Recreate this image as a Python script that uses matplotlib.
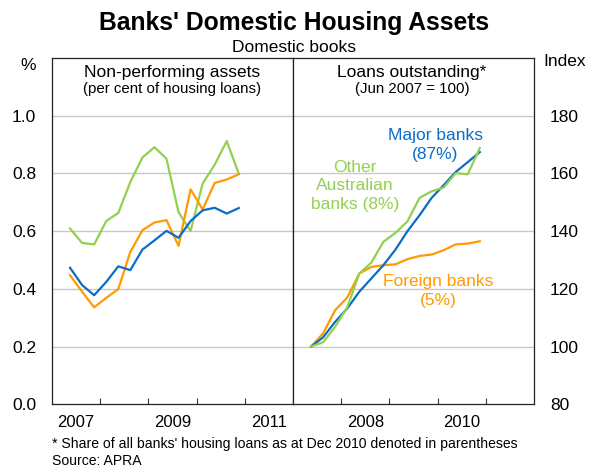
import matplotlib
matplotlib.use("Agg")
import matplotlib.pyplot as plt
import numpy as np

plt.rcParams['font.family'] = ['Liberation Sans', 'DejaVu Sans']

# Quarterly dates Jun 2007 .. Dec 2010
quarters = ["2007-06", "2007-09", "2007-12", "2008-03", "2008-06", "2008-09", "2008-12",
            "2009-03", "2009-06", "2009-09", "2009-12", "2010-03", "2010-06", "2010-09", "2010-12"]

# Non-performing assets (% of housing loans)
npa_major = [0.473, 0.413, 0.378, 0.424, 0.478, 0.465, 0.536, 0.568, 0.601, 0.577, 0.635, 0.672, 0.681, 0.661, 0.680]
npa_foreign = [0.447, 0.390, 0.336, 0.369, 0.399, 0.528, 0.603, 0.630, 0.638, 0.549, 0.745, 0.675, 0.767, 0.779, 0.797]
npa_other = [0.609, 0.559, 0.554, 0.635, 0.663, 0.770, 0.855, 0.891, 0.851, 0.666, 0.600, 0.765, 0.830, 0.912, 0.799]

# Loans outstanding (Jun 2007 = 100)
loans_major = [100.0, 103.2, 108.6, 113.2, 119.0, 123.6, 128.2, 133.6, 140.0, 145.5, 151.5, 155.9, 160.5, 163.9, 167.4]
loans_other = [100.0, 101.5, 106.9, 113.6, 125.3, 129.1, 136.3, 139.4, 143.4, 151.5, 153.8, 155.1, 160.1, 159.7, 168.8]
loans_foreign = [100.0, 104.6, 112.6, 117.0, 125.3, 127.6, 128.2, 128.5, 130.3, 131.4, 131.9, 133.4, 135.4, 135.7, 136.5]

left_yticks = [0.0, 0.2, 0.4, 0.6, 0.8, 1.0]
left_ylabels = ["0.0", "0.2", "0.4", "0.6", "0.8", "1.0"]
right_yticks = [80, 100, 120, 140, 160, 180]
left_xlabels = ["2007", "2009", "2011"]
right_xlabels = ["2008", "2010"]

BLUE = '#0A6EC8'
GREEN = '#92D050'
ORANGE = '#FF9A00'

def qx(q):
    y, m = q.split('-')
    return int(y) + (int(m) - 1.5) / 12.0

x = np.array([qx(q) for q in quarters])

W, H = 597, 469
fig = plt.figure(figsize=(W / 100, H / 100), dpi=100)

L, R, M = 52, 534, 293
B, T = 404.3, 58
axl = fig.add_axes([L / W, 1 - B / H, (M - L) / W, (B - T) / H])
axr = fig.add_axes([M / W, 1 - B / H, (R - M) / W, (B - T) / H])

lw = 1.6
axl.plot(x, npa_other, color=GREEN, lw=lw, zorder=3)
axl.plot(x, npa_foreign, color=ORANGE, lw=lw, zorder=3)
axl.plot(x, npa_major, color=BLUE, lw=lw, zorder=3)
axl.set_ylim(0, 1.2)

axr.plot(x, loans_foreign, color=ORANGE, lw=lw, zorder=3)
axr.plot(x, loans_major, color=BLUE, lw=lw, zorder=3)
axr.plot(x, loans_other, color=GREEN, lw=lw, zorder=3)
axr.set_ylim(80, 200)

for ax in (axl, axr):
    ax.set_xlim(2007, 2012)
    ax.set_xticks([2008, 2009, 2010, 2011])
    ax.tick_params(axis='x', which='major', direction='in', length=4, width=0.8,
                   labelbottom=False, color='#333333')
    for s in ax.spines.values():
        s.set_color('#222222')
        s.set_linewidth(0.9)

# gridlines
for v in [0.2, 0.4, 0.6, 0.8, 1.0]:
    axl.axhline(v, color='#c8c8c8', lw=1.0, zorder=1)
for v in [100, 120, 140, 160, 180]:
    axr.axhline(v, color='#c8c8c8', lw=1.0, zorder=1)

axl.set_xticks([2007.5, 2009.5, 2011.5], minor=True)
axl.set_xticklabels(left_xlabels, minor=True)
axr.set_xticks([2008.5, 2010.5], minor=True)
axr.set_xticklabels(right_xlabels, minor=True)
for ax in (axl, axr):
    ax.tick_params(axis='x', which='minor', length=0, labelsize=12, pad=8)

axl.set_yticks(left_yticks)
axl.set_yticklabels(left_ylabels)
axl.tick_params(axis='y', length=0, labelsize=12.5, pad=11.5)
axr.set_yticks(right_yticks)
axr.yaxis.tick_right()
axr.tick_params(axis='y', length=0, labelsize=12.5, pad=11.5, labelleft=False, labelright=True)

def ft(px, py, s, **kw):
    fig.text(px / W, 1 - py / H, s, **kw)

ft(294, 23, "Banks' Domestic Housing Assets", ha='center', va='center', fontsize=17.7, fontweight='bold')
ft(294, 47, "Domestic books", ha='center', va='center', fontsize=12.5)
ft(28, 66, "%", ha='center', va='center', fontsize=12.5)
ft(565, 62, "Index", ha='center', va='center', fontsize=12.5)
ft(172.5, 72, "Non-performing assets", ha='center', va='center', fontsize=12.5)
ft(172.5, 89, "(per cent of housing loans)", ha='center', va='center', fontsize=10.8)
ft(412, 72, "Loans outstanding*", ha='center', va='center', fontsize=12.5)
ft(412, 89, "(Jun 2007 = 100)", ha='center', va='center', fontsize=10.8)

ft(435, 145, "Major banks\n(87%)", ha='center', va='center', fontsize=12.5, color=BLUE, linespacing=1.3)
ft(355, 186, "Other\nAustralian\nbanks (8%)", ha='center', va='center', fontsize=12.5, color=GREEN, linespacing=1.25)
ft(438, 291, "Foreign banks\n(5%)", ha='center', va='center', fontsize=12.5, color=ORANGE, linespacing=1.3)

ft(52, 444, "* Share of all banks' housing loans as at Dec 2010 denoted in parentheses", ha='left', va='center', fontsize=10.1)
ft(52, 461, "Source: APRA", ha='left', va='center', fontsize=10.1)

fig.savefig('out.png', dpi=100)
